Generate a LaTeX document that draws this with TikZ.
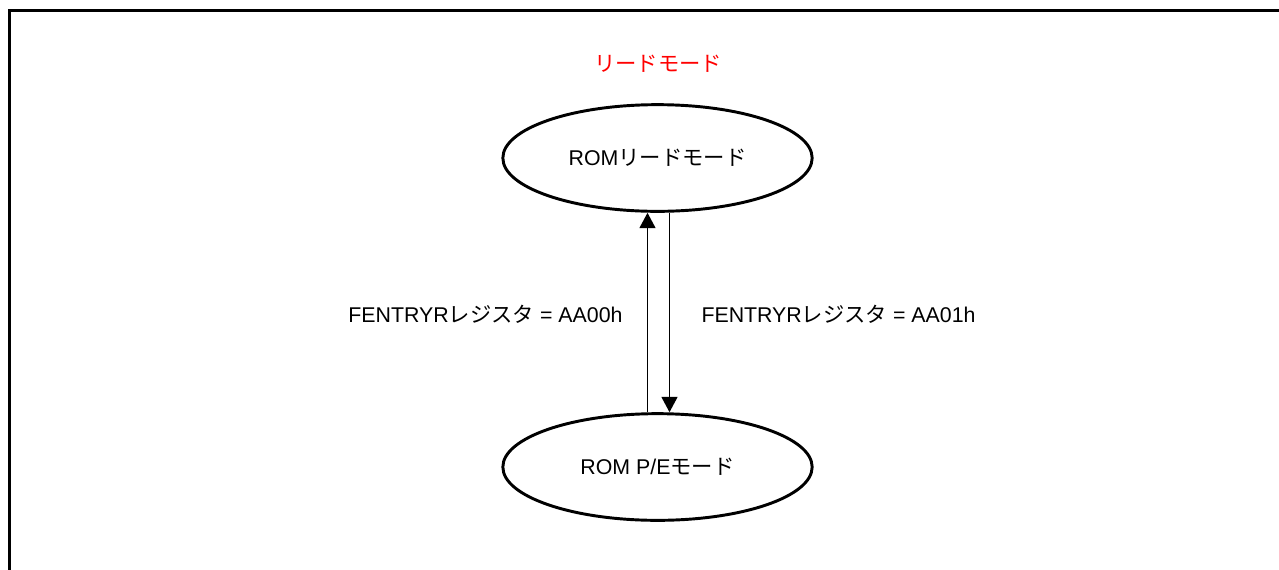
\documentclass[tikz,border=0pt]{standalone}
\usepackage{fontspec}
\setmainfont{Liberation Sans}
\newfontfamily\jp{Noto Sans CJK JP}
\usetikzlibrary{shapes.geometric,arrows.meta}

\tikzset{every picture/.style={line width=0.75pt}}
\tikzset{
  modestate/.style={draw, ellipse, line width=2.2pt, inner sep=0pt,
    minimum width=232pt, minimum height=80pt, font=\fontsize{16}{19}\selectfont},
  modelabel/.style={inner sep=0.75pt, font=\fontsize{16}{19}\selectfont},
  modearrow/.style={-{Triangle[length=11.5pt,width=12pt]}, line width=1.1pt},
}

\begin{document}
\begin{tikzpicture}[x=0.75pt,y=0.75pt,yscale=-1,xscale=1]
\useasboundingbox (0,0) rectangle (1279,569);

% Frame
\draw [line width=2.25pt] (9,575) -- (9,10.5) -- (1285,10.5);

% Text Node
\draw (658,64) node [modelabel, text=red] (title) {\jp リードモード};

% States
\draw (657.5,158) node [modestate] (romread) {ROM{\jp リードモード}};
\draw (657.5,467) node [modestate] (rompe) {ROM P/E{\jp モード}};

% Transitions
\draw [modearrow] ([xshift=-7.5pt]rompe.north) -- ([xshift=-7.5pt]romread.south);
\draw [modearrow] ([xshift=9pt]romread.south) -- ([xshift=9pt]rompe.north);

% Text Node
\draw (624,314) node [modelabel, anchor=east] (toread) {FENTRYR{\jp レジスタ} = AA00h};
% Text Node
\draw (700,314) node [modelabel, anchor=west] (tope) {FENTRYR{\jp レジスタ} = AA01h};
\end{tikzpicture}
\end{document}
